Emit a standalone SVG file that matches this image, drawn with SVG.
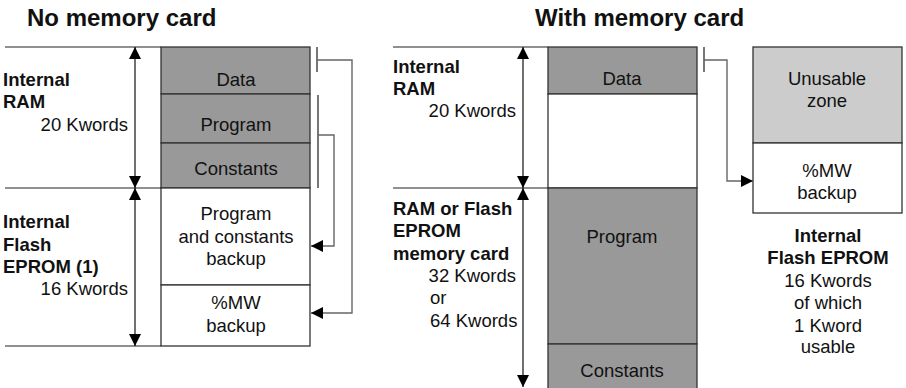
<svg xmlns="http://www.w3.org/2000/svg" width="906" height="388" viewBox="0 0 906 388">
  <style>
    text { font-family: "Liberation Sans", Arial, sans-serif; font-size: 18.5px; fill: #111; }
    .title { font-size: 24px; font-weight: bold; }
    .bold { font-weight: bold; }
    .mid { text-anchor: middle; }
    .end { text-anchor: end; }
    .cell { stroke: #333; stroke-width: 1.3; }
    .dark { fill: #999; }
    .light { fill: #ccc; }
    .blank { fill: #fff; }
    .rule { stroke: #222; stroke-width: 1.2; fill: none; }
    .dim { stroke: #111; stroke-width: 1.2; fill: none; marker-start: url(#head); marker-end: url(#head); }
    .link { stroke: #666; stroke-width: 1.4; fill: none; }
    .tick { stroke: #555; stroke-width: 1.6; fill: none; }
  </style>
  <defs>
    <marker id="head" viewBox="0 0 12 12" refX="12" refY="6" markerWidth="12" markerHeight="13" markerUnits="userSpaceOnUse" orient="auto-start-reverse">
      <path d="M0,0 L12,6 L0,12 Z" fill="#000"/>
    </marker>
    <marker id="tip" viewBox="0 0 12 12" refX="12" refY="6" markerWidth="12" markerHeight="13" markerUnits="userSpaceOnUse" orient="auto">
      <path d="M0,0 L12,6 L0,12 Z" fill="#000"/>
    </marker>
  </defs>

  <!-- Titles -->
  <text class="title" x="27" y="26">No memory card</text>
  <text class="title" x="535" y="26">With memory card</text>

  <!-- Left: memory map without card -->
  <g id="left-ram-labels">
    <text class="bold" x="3" y="86">Internal</text>
    <text class="bold" x="3" y="108">RAM</text>
    <text class="end" x="128" y="131">20 Kwords</text>
  </g>
  <g id="left-flash-labels">
    <text class="bold" x="3" y="228">Internal</text>
    <text class="bold" x="3" y="251">Flash</text>
    <text class="bold" x="3" y="273">EPROM (1)</text>
    <text class="end" x="128" y="295">16 Kwords</text>
  </g>
  <g id="left-data">
    <rect class="cell dark" x="161" y="47" width="149" height="47"/>
    <text class="mid" x="236" y="86">Data</text>
  </g>
  <g id="left-program">
    <rect class="cell dark" x="161" y="94" width="149" height="49"/>
    <text class="mid" x="236" y="131">Program</text>
  </g>
  <g id="left-constants">
    <rect class="cell dark" x="161" y="143" width="149" height="45"/>
    <text class="mid" x="236" y="175">Constants</text>
  </g>
  <g id="left-backup">
    <rect class="cell blank" x="161" y="188" width="149" height="97"/>
    <text class="mid" x="236" y="220">Program</text>
    <text class="mid" x="236" y="243">and constants</text>
    <text class="mid" x="236" y="265">backup</text>
  </g>
  <g id="left-mw-backup">
    <rect class="cell blank" x="161" y="285" width="149" height="61"/>
    <text class="mid" x="236" y="309">%MW</text>
    <text class="mid" x="236" y="332">backup</text>
  </g>

  <!-- Right: memory map with card -->
  <g id="right-ram-labels">
    <text class="bold" x="393" y="73">Internal</text>
    <text class="bold" x="393" y="95">RAM</text>
    <text class="end" x="516" y="117">20 Kwords</text>
  </g>
  <g id="right-card-labels">
    <text class="bold" x="393" y="215">RAM or Flash</text>
    <text class="bold" x="393" y="237">EPROM</text>
    <text class="bold" x="393" y="260">memory card</text>
    <text class="end" x="516" y="282">32 Kwords</text>
    <text x="430" y="304">or</text>
    <text x="430" y="327">64 Kwords</text>
  </g>
  <g id="right-data">
    <rect class="cell dark" x="548" y="47" width="149" height="47"/>
    <text class="mid" x="622" y="85">Data</text>
  </g>
  <g id="right-ram-free">
    <rect class="cell blank" x="548" y="94" width="149" height="94"/>
  </g>
  <g id="right-program">
    <rect class="cell dark" x="548" y="188" width="149" height="156"/>
    <text class="mid" x="622" y="243">Program</text>
  </g>
  <g id="right-constants">
    <rect class="cell dark" x="548" y="344" width="149" height="50"/>
    <text class="mid" x="622" y="377">Constants</text>
  </g>
  <g id="right-unusable">
    <rect class="cell light" x="753" y="47" width="149" height="96"/>
    <text class="mid" x="827" y="85">Unusable</text>
    <text class="mid" x="827" y="107">zone</text>
  </g>
  <g id="right-mw-backup">
    <rect class="cell blank" x="753" y="143" width="149" height="70"/>
    <text class="mid" x="827" y="177">%MW</text>
    <text class="mid" x="827" y="199">backup</text>
  </g>
  <g id="right-flash-labels">
    <text class="bold mid" x="828" y="242">Internal</text>
    <text class="bold mid" x="828" y="264">Flash EPROM</text>
    <text class="mid" x="828" y="287">16 Kwords</text>
    <text class="mid" x="828" y="309">of which</text>
    <text class="mid" x="828" y="332">1 Kword</text>
    <text class="mid" x="828" y="353">usable</text>
  </g>

  <!-- Boundary rules, size arrows and backup links -->
  <g id="connectors">
    <path class="rule" d="M5,47 H161 M5,188 H161 M5,346 H161"/>
    <path class="rule" d="M393,47 H548 M393,188 H548"/>
    <path class="dim" d="M135,47 V188"/>
    <path class="dim" d="M135,188 V346"/>
    <path class="dim" d="M523,47 V188"/>
    <path class="dim" d="M523,188 V387"/>

    <path class="tick" d="M317,47 V72"/>
    <path class="link" d="M317,60 H352 V313 H311" marker-end="url(#tip)"/>
    <path class="tick" d="M318,95 V188"/>
    <path class="link" d="M318,135 H334 V246 H311" marker-end="url(#tip)"/>

    <path class="tick" d="M704,47 V72"/>
    <path class="link" d="M704,60 H727 V181 H753" marker-end="url(#tip)"/>
  </g>
</svg>
